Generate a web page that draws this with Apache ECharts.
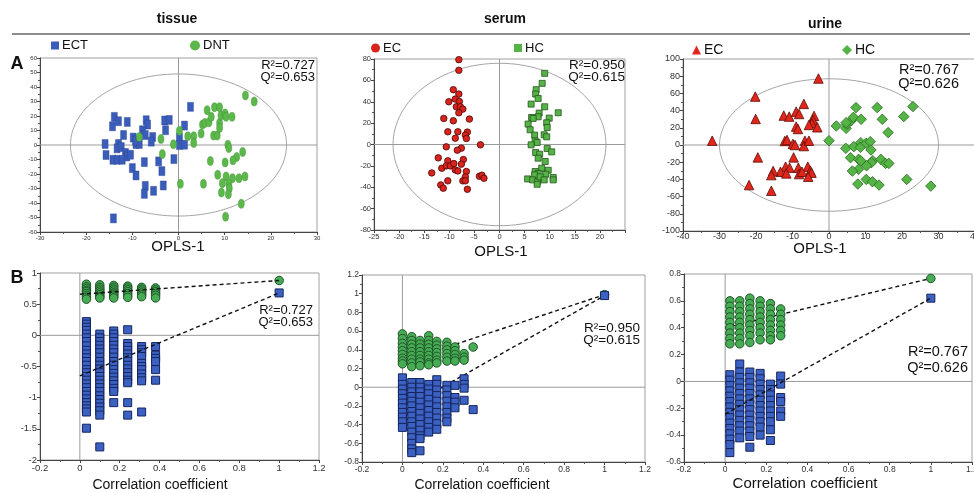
<!DOCTYPE html>
<html><head><meta charset="utf-8">
<script src="https://cdn.jsdelivr.net/npm/echarts@6/dist/echarts.min.js"></script>
<style>html,body{margin:0;padding:0;background:#fff}#c{width:974px;height:493px}</style>
</head><body><div id="c"></div><script>
// ---------- titles ----------
const panelTitles = ['tissue', 'serum', 'urine'];
const panelLetters = ['A', 'B'];
const scoreAxisName = 'OPLS-1';
const permAxisName = 'Correlation coefficient';

// ---------- Row A: OPLS score plots ----------
const tissueECT = [[2.6,26.3],[-13.9,19.4],[-14.3,12.9],[-13,16.4],[-11.1,15.9],[-7,17.1],[-6.7,14.1],[-3,16.9],[-2,17.3],[1.3,13.4],[-2.8,10.2],[-7.8,10.2],[-7.2,6.9],[-9.8,5.1],[-11.9,6.9],[-5.6,5.5],[-5.9,2.3],[0.2,5.3],[0.2,0],[1.3,0.2],[-15.9,0.7],[-13,0.7],[-13.3,-2.3],[-12.4,-1.4],[-11.5,-5.5],[-11.2,-7.9],[-10.4,-6.7],[-9.2,0.7],[-8.5,0.7],[-9.3,3],[-15.7,-6.9],[-14.2,-10.2],[-13.3,-10.2],[-12.2,-10.2],[-10,-15.9],[-9.2,-21],[-7.4,-11.8],[-4.3,-11.3],[-3.6,-18],[-3.3,-27.9],[-1,-9.7],[-7.2,-28.2],[-7.4,-33.7],[-5.4,-31.6],[-14.1,-50.6]];
const tissueDNT = [[-8.5,5.5],[-3.8,4.2],[-3.5,-6.2],[-1.1,0.5],[0.2,9.9],[2,6],[3.3,6],[3.3,1.4],[4.9,7.9],[5.2,14.1],[5.7,15.2],[6.2,24],[6.6,15.7],[7.1,19.4],[7.8,26.1],[7.6,6.5],[8.4,6.5],[8.9,26.1],[8.9,15.2],[9.2,20.3],[8.9,11.8],[10.1,21.7],[10.3,19.4],[11.6,19.4],[14.5,34.2],[16.4,30],[10.7,0.2],[10.9,-2.1],[13.9,-4.8],[12.6,-8.3],[11.8,-10.6],[10.1,-12],[6.9,-11.1],[8.5,-20.6],[10.3,-21.7],[11.7,-22.9],[13.1,-22.9],[14.4,-21.7],[9.5,-26.3],[9.3,-32.8],[10.9,-26.8],[11,-29.8],[10.8,-33.9],[5.4,-26.8],[0.4,-26.8],[13.6,-40.6],[10.2,-49.4]];
const serumEC = [[-8.1,79.4],[-8.1,69.4],[-9.2,51.3],[-8.1,47.2],[-8.8,42.5],[-10.1,40],[-8,40.3],[-8.6,35.3],[-7.8,35.3],[-7.3,33.1],[-8.1,29.7],[-11.1,24.4],[-9.2,22.2],[-6,23.8],[-10.3,11.9],[-8.3,11.9],[-6.4,11.6],[-8.8,5.9],[-6.8,8.8],[-6.6,5.6],[-3.8,-0.3],[-10.6,-2.2],[-7.6,-3.4],[-8.4,-5.3],[-12.2,-12.5],[-10.3,-15.3],[-7.2,-14.1],[-11.5,-22.2],[-10.6,-20],[-9.8,-20],[-9.1,-17.8],[-7.6,-18.4],[-8.8,-23.8],[-8.3,-24.7],[-6.6,-25.3],[-13.5,-26.6],[-6.8,-30.3],[-7.3,-34],[-6.8,-34],[-10.3,-34],[-4,-29.7],[-3.5,-28.8],[-3.1,-31.6],[-11.7,-37.8],[-11.2,-40.9],[-6.4,-41.9]];
const serumHC = [[9,66.6],[8.5,57.2],[7.3,51.3],[7.2,47.2],[7.7,43.1],[6.3,37.8],[9,35.3],[7.9,29.4],[11.7,29.7],[7.7,25.9],[6.4,25.3],[6.7,24.4],[9.9,24.7],[9.4,20.3],[9.5,15.9],[5.7,19.1],[6.1,13.8],[7,8.8],[8.9,9.1],[9.4,7.2],[7.1,3.4],[7.5,1.9],[6.3,-0.3],[9.5,-3.8],[10.4,-6.9],[7.2,-7.5],[8,-9.1],[7.7,-12.8],[9.1,-15.9],[8.4,-22.2],[9.7,-24.1],[7.1,-25.3],[7.7,-27.2],[7,-28.4],[8.5,-30.9],[9.2,-27.8],[10.7,-30.9],[5.6,-32.2],[6.6,-33.1],[7.6,-34.7],[8.1,-30.3],[8.9,-33.1],[10.7,-33.1],[7.5,-37.2]];
const urineEC = [[-2.9,77.3],[-20.2,56.3],[-6.9,47.8],[-20.1,30.3],[-12.4,34.2],[-10.9,33],[-9,38.8],[-8.2,36.1],[-4.1,33.8],[-4.4,29.1],[-4.7,25.2],[-5.5,23.3],[-3.2,20.6],[-9,21.4],[-8.5,18.6],[-32,5],[-12.1,4.7],[-11.5,5.8],[-9.9,1.2],[-9.3,0],[-6.6,5],[-6.9,-1.2],[-5.5,5],[-9.7,-14.4],[-19.5,-14.4],[-11.9,-25.2],[-10.8,-26.4],[-8.4,-26.4],[-5.8,-25.2],[-5.1,-29.9],[-13.3,-31.1],[-15.3,-30.3],[-15.8,-35],[-11.7,-33],[-8.2,-33.8],[-7.4,-31.1],[-4.8,-32.2],[-5.7,-36.9],[-21.9,-46.6],[-15.8,-53.2]];
const urineHC = [[0,5],[2,22.1],[4.7,19.4],[4.9,24.1],[6.1,28.3],[6.7,32.2],[4.7,26],[7.4,43.5],[8.8,29.9],[13.2,43.5],[14.6,29.9],[16.2,14.4],[20.5,33],[23,44.7],[4.6,-3.9],[6.8,-1.9],[8.7,2.7],[8.6,-2.7],[10.2,1.9],[11.3,3.9],[11.5,-5.8],[5.9,-14.8],[8.1,-16.7],[8.7,-18.3],[12,-18.3],[11.6,-20.6],[10.3,-24.1],[14.2,-16.7],[15.5,-21.4],[16.4,-21.4],[8.1,-28.3],[6.4,-30.3],[10.2,-40],[11.9,-42.7],[13.7,-46.6],[7.9,-45.4],[21.3,-40],[27.9,-47.8]];
// Hotelling ellipse radii [x, y]
const tissueEllipse = [23.4, 49];
const serumEllipse = [21.2, 76];
const urineEllipse = [30, 77];
// axis ranges [min, max, step]
const tissueScoreX = [-30, 30, 10], tissueScoreY = [-60, 60, 10];
const serumScoreX = [-25, 25, 5], serumScoreY = [-80, 80, 20];
const urineScoreX = [-40, 40, 10], urineScoreY = [-100, 100, 20];
// model statistics
const tissueStats = ['R²=0.727', 'Q²=0.653'];
const serumStats = ['R²=0.950', 'Q²=0.615'];
const urineStats = ['R²=0.767', 'Q²=0.626'];

// ---------- Row B: permutation tests ----------
const tissuePermX = [0.033, 0.1, 0.17, 0.24, 0.31, 0.38];
const tissuePermR2 = [
  [0.82,0.78,0.75,0.72,0.7,0.67,0.64,0.61,0.58],
  [0.81,0.77,0.74,0.71,0.68,0.65,0.62,0.6],
  [0.8,0.77,0.74,0.71,0.68,0.66,0.63,0.6],
  [0.79,0.76,0.73,0.7,0.67,0.64,0.61],
  [0.77,0.74,0.71,0.68,0.65,0.62],
  [0.76,0.73,0.7,0.67,0.64,0.6]];
const tissuePermQ2 = [
  [0.22,0.18,0.13,0.08,0.02,-0.04,-0.1,-0.17,-0.24,-0.3,-0.36,-0.42,-0.48,-0.55,-0.6,-0.66,-0.72,-0.78,-0.84,-0.9,-0.96,-1.02,-1.08,-1.13,-1.18,-1.23,-1.49],
  [0.02,-0.04,-0.1,-0.16,-0.22,-0.28,-0.35,-0.42,-0.48,-0.54,-0.6,-0.66,-0.72,-0.78,-0.84,-0.9,-0.97,-1.03,-1.09,-1.15,-1.21,-1.28,-1.79],
  [0.07,0.02,-0.04,-0.1,-0.16,-0.22,-0.28,-0.35,-0.42,-0.48,-0.55,-0.61,-0.67,-0.73,-0.79,-0.85,-0.9,-1.08],
  [0.09,-0.13,-0.18,-0.24,-0.3,-0.36,-0.42,-0.48,-0.54,-0.6,-0.66,-0.72,-0.76,-1.08,-1.28],
  [-0.18,-0.23,-0.28,-0.34,-0.45,-0.5,-0.55,-0.62,-0.68,-0.73,-1.23],
  [-0.18,-0.32,-0.37,-0.42,-0.55,-0.72]];
const tissueOrig = [0.88, 0.68];           // R2, Q2 of the real model (x = 1)
const tissueR2Line = [[0, 0.66], [1, 0.88]];
const tissueQ2Line = [[0, -0.65], [1, 0.68]];

const serumPermX = [0, 0.046, 0.087, 0.13, 0.17, 0.22, 0.26, 0.305, 0.35];
const serumPermR2 = [
  [0.57,0.52,0.47,0.43,0.39,0.35,0.31,0.28,0.25],
  [0.54,0.5,0.46,0.42,0.38,0.34,0.3,0.26,0.22],
  [0.5,0.46,0.42,0.38,0.34,0.3,0.27,0.23],
  [0.55,0.5,0.46,0.42,0.38,0.34,0.3,0.26,0.24],
  [0.49,0.45,0.41,0.37,0.33,0.29,0.26],
  [0.48,0.44,0.4,0.36,0.32,0.28],
  [0.43,0.39,0.35,0.31,0.28],
  [0.36,0.32,0.29],
  [0.43]];
const serumPermQ2 = [
  [0.1,0.03,-0.02,-0.07,-0.12,-0.17,-0.22,-0.27,-0.32,-0.37,-0.43],
  [0.05,0,-0.05,-0.1,-0.15,-0.2,-0.26,-0.31,-0.37,-0.42,-0.48,-0.54,-0.6,-0.66,-0.7],
  [0.05,0,-0.05,-0.1,-0.16,-0.22,-0.28,-0.34,-0.4,-0.46,-0.52,-0.55,-0.68],
  [0.03,-0.02,-0.07,-0.13,-0.19,-0.25,-0.31,-0.37,-0.43,-0.48],
  [0.08,0.03,-0.03,-0.09,-0.15,-0.21,-0.27,-0.33,-0.39,-0.45],
  [0.02,-0.03,-0.09,-0.15,-0.21,-0.27,-0.33,-0.37],
  [0.02,-0.11,-0.16,-0.22],
  [0.09,0.03,-0.01,-0.14],
  [-0.24]];
const serumOrig = [0.99, 0.98];
const serumR2Line = [[0, 0.27], [1, 0.99]];
const serumQ2Line = [[0, -0.24], [1, 0.98]];

const urinePermX = [0.023, 0.071, 0.12, 0.17, 0.22, 0.27];
const urinePermR2 = [
  [0.6,0.56,0.52,0.48,0.44,0.4,0.36,0.32,0.28],
  [0.6,0.56,0.52,0.48,0.44,0.4,0.36,0.32,0.28],
  [0.62,0.58,0.54,0.5,0.46,0.42,0.38,0.34,0.29],
  [0.6,0.56,0.52,0.48,0.44,0.4,0.36,0.31],
  [0.58,0.54,0.5,0.46,0.42,0.38,0.34,0.31],
  [0.54,0.5,0.46,0.42,0.38,0.34]];
const urinePermQ2 = [
  [0.05,0.01,-0.03,-0.07,-0.11,-0.15,-0.19,-0.23,-0.27,-0.31,-0.35,-0.39,-0.43,-0.47,-0.53],
  [0.13,0.07,0.03,-0.01,-0.05,-0.09,-0.13,-0.17,-0.21,-0.25,-0.29,-0.33,-0.37,-0.42],
  [0.07,0.03,-0.01,-0.05,-0.09,-0.13,-0.17,-0.21,-0.25,-0.29,-0.33,-0.37,-0.41,-0.49],
  [0.06,0.02,-0.02,-0.06,-0.1,-0.14,-0.18,-0.22,-0.26,-0.3,-0.34,-0.4],
  [-0.02,-0.06,-0.1,-0.14,-0.18,-0.22,-0.26,-0.3,-0.36,-0.44],
  [0.04,-0.02,-0.12,-0.15,-0.22,-0.26]];
const urineOrig = [0.767, 0.62];
const urineR2Line = [[0, 0.40], [1, 0.767]];
const urineQ2Line = [[0, -0.243], [1, 0.62]];

const tissuePermAxisX = [-0.2, 1.2, 0.2], tissuePermAxisY = [-2, 1, 0.5];
const serumPermAxisX = [-0.2, 1.2, 0.2], serumPermAxisY = [-0.8, 1.2, 0.2];
const urinePermAxisX = [-0.2, 1.2, 0.2], urinePermAxisY = [-0.6, 0.8, 0.2];

// ---------- layout / styling ----------
const FONT = '"Liberation Sans", Arial, Helvetica, sans-serif';
const grids = [
  {left: 40, top: 58, width: 277, height: 174},
  {left: 374, top: 59, width: 251, height: 171},
  {left: 683, top: 59, width: 292, height: 172},
  {left: 40, top: 273, width: 279, height: 187},
  {left: 362, top: 275, width: 283, height: 187},
  {left: 684, top: 274, width: 288, height: 188}
];
const tickFont = [6, 7.5, 9, 9.5, 8.5, 8.5];
const xLabelMargin = [3, 3, 1, 3, 3, 3];

function axis(gi, r, fs, margin, extraLabel) {
  return {
    type: 'value', gridIndex: gi, min: r[0], max: r[1], interval: r[2],
    axisLine: {onZero: false, lineStyle: {color: '#444', width: 1}},
    axisTick: {show: true, length: 3, lineStyle: {color: '#444'}},
    minorTick: {show: true, splitNumber: 2, length: 2, lineStyle: {color: '#555'}},
    splitLine: {show: false},
    axisLabel: Object.assign({fontSize: fs, color: '#333', margin: margin, fontFamily: FONT}, extraLabel || {})
  };
}
const xr = [tissueScoreX, serumScoreX, urineScoreX, tissuePermAxisX, serumPermAxisX, urinePermAxisX];
const yr = [tissueScoreY, serumScoreY, urineScoreY, tissuePermAxisY, serumPermAxisY, urinePermAxisY];
const xAxes = xr.map((r, i) => axis(i, r, tickFont[i], xLabelMargin[i], i === 1 ? {showMaxLabel: false} : null));
const yAxes = yr.map((r, i) => axis(i, r, tickFont[i], 3, null));

const series = [];
// zero lines (gray cross)
xr.forEach((r, i) => {
  const y = yr[i];
  const zl = {type: 'line', xAxisIndex: i, yAxisIndex: i, symbol: 'none', silent: true, z: 1,
    lineStyle: {color: '#9a9a9a', width: 1}, animation: false};
  series.push(Object.assign({}, zl, {data: [[0, y[0]], [0, y[1]]]}));
  series.push(Object.assign({}, zl, {data: [[r[0], 0], [r[1], 0]]}));
});
// ellipses
function ellipseSeries(i, rr) {
  return {type: 'custom', xAxisIndex: i, yAxisIndex: i, silent: true, z: 1, data: [rr],
    renderItem: function (params, api) {
      const c = api.coord([0, 0]);
      const e = api.coord([api.value(0), api.value(1)]);
      return {type: 'ellipse', shape: {cx: c[0], cy: c[1], rx: Math.abs(e[0] - c[0]), ry: Math.abs(e[1] - c[1])},
        style: {fill: null, stroke: '#a5a5a5', lineWidth: 1}};
    }};
}
series.push(ellipseSeries(0, tissueEllipse), ellipseSeries(1, serumEllipse), ellipseSeries(2, urineEllipse));

const BLUE = '#3a5cba', GREEN = '#55b446', RED = '#d8241c';
function sc(name, i, data, symbol, size, color, border, bw) {
  return {type: 'scatter', name: name, xAxisIndex: i, yAxisIndex: i, data: data, symbol: symbol, symbolSize: size, z: 3,
    itemStyle: {color: color, borderColor: border, borderWidth: bw, opacity: 1}};
}
series.push(sc('ECT', 0, tissueECT, 'rect', [6, 9], BLUE, '#2c4690', 0.4));
series.push(sc('DNT', 0, tissueDNT, 'circle', [6, 9], '#5cb84a', '#3f8c33', 0.4));
series.push(sc('EC', 1, serumEC, 'circle', 6.5, RED, '#4a0805', 0.8));
series.push(sc('HC', 1, serumHC, 'rect', 6, GREEN, '#24561c', 0.8));
series.push(sc('EC', 2, urineEC, 'triangle', 9.5, '#e2261c', '#5a0c08', 0.8));
series.push(sc('HC', 2, urineHC, 'diamond', 10.5, GREEN, '#2b6a22', 0.8));

function cols(xs, c, orig) {
  const out = [];
  c.forEach((col, k) => col.forEach(v => out.push([xs[k], v])));
  out.push([1, orig]);
  return out;
}
function perm(i, xs, r2, q2, orig, l2, lq, zR2, zQ2) {
  const dash = {type: [4, 3], color: '#111', width: 1.4};
  series.push({type: 'line', xAxisIndex: i, yAxisIndex: i, data: l2, symbol: 'none', z: zR2, silent: true, lineStyle: dash});
  series.push({type: 'line', xAxisIndex: i, yAxisIndex: i, data: lq, symbol: 'none', z: zQ2, silent: true, lineStyle: dash});
  series.push(sc('R2perm' + i, i, cols(xs, r2, orig[0]), 'circle', 8.5, '#47ad55', '#1d5326', 1));
  series.push(sc('Q2perm' + i, i, cols(xs, q2, orig[1]), 'rect', 8, '#3b62c2', '#16245e', 1));
}
perm(3, tissuePermX, tissuePermR2, tissuePermQ2, tissueOrig, tissueR2Line, tissueQ2Line, 4, 4);
perm(4, serumPermX, serumPermR2, serumPermQ2, serumOrig, serumR2Line, serumQ2Line, 2, 2);
perm(5, urinePermX, urinePermR2, urinePermQ2, urineOrig, urineR2Line, urineQ2Line, 2, 4);

// ---------- texts ----------
function txt(x, y, s, font, align) {
  return {type: 'text', x: x, y: y, silent: true, z: 10,
    style: {text: s, font: font, fill: '#111', textAlign: align || 'center', align: align || 'center',
      textVerticalAlign: 'middle', verticalAlign: 'middle'}};
}
const graphics = [
  {type: 'line', shape: {x1: 12, y1: 34, x2: 970, y2: 34}, style: {stroke: '#666', lineWidth: 1.5}, silent: true},
  txt(177, 19, panelTitles[0], 'bold 14px ' + FONT),
  txt(505, 19, panelTitles[1], 'bold 14px ' + FONT),
  txt(825, 24, panelTitles[2], 'bold 14px ' + FONT),
  txt(17, 64, panelLetters[0], 'bold 18px ' + FONT),
  txt(17, 278, panelLetters[1], 'bold 18px ' + FONT),
  txt(178, 247, scoreAxisName, '15px ' + FONT),
  txt(501, 252, scoreAxisName, '15px ' + FONT),
  txt(820, 249, scoreAxisName, '15px ' + FONT),
  txt(160, 485, permAxisName, '14px ' + FONT),
  txt(482, 485, permAxisName, '14px ' + FONT),
  txt(805, 484, permAxisName, '15px ' + FONT),
  txt(315, 65, tissueStats[0], '13px ' + FONT, 'right'),
  txt(315, 77, tissueStats[1], '13px ' + FONT, 'right'),
  txt(625, 65.5, serumStats[0], '13.5px ' + FONT, 'right'),
  txt(625, 77, serumStats[1], '13.5px ' + FONT, 'right'),
  txt(959, 70, urineStats[0], '14.5px ' + FONT, 'right'),
  txt(959, 84, urineStats[1], '14.5px ' + FONT, 'right'),
  txt(313, 310, tissueStats[0], '13px ' + FONT, 'right'),
  txt(313, 322, tissueStats[1], '13px ' + FONT, 'right'),
  txt(640, 328, serumStats[0], '13.5px ' + FONT, 'right'),
  txt(640, 340, serumStats[1], '13.5px ' + FONT, 'right'),
  txt(968, 352, urineStats[0], '14.5px ' + FONT, 'right'),
  txt(968, 368, urineStats[1], '14.5px ' + FONT, 'right')
];

function lg(name, icon, left, top, w, h, fs, itemStyle) {
  const d = {name: name, icon: icon};
  if (itemStyle) d.itemStyle = itemStyle;
  return {selectedMode: false, left: left, top: top, padding: 0, itemWidth: w, itemHeight: h,
    textStyle: {fontSize: fs, color: '#111', fontFamily: FONT, lineHeight: 16, padding: [0, 0, 0, -2]},
    data: [d]};
}

const chart = echarts.init(document.getElementById('c'), null, {renderer: 'canvas'});
chart.setOption({
  animation: false,
  backgroundColor: '#fff',
  grid: grids.map(g => Object.assign({show: true, borderColor: '#a0a0a0', borderWidth: 1, backgroundColor: 'transparent', containLabel: false, outerBoundsMode: 'none'}, g)),
  xAxis: xAxes,
  yAxis: yAxes,
  legend: [
    lg('ECT', 'rect', 51, 37.5, 8, 8, 13, {color: BLUE, borderWidth: 0}),
    lg('DNT', 'circle', 190, 37.5, 10, 10, 13, {color: '#5cb84a', borderWidth: 0}),
    lg('EC', 'circle', 371, 40, 9, 9, 13, {color: RED, borderWidth: 0}),
    lg('HC', 'rect', 514, 40, 8, 8, 13, {color: GREEN, borderWidth: 0}),
    lg('EC', 'triangle', 692, 42, 9, 9, 14, {color: '#e2261c', borderWidth: 0}),
    lg('HC', 'diamond', 842, 42, 10, 10, 14, {color: GREEN, borderWidth: 0})
  ],
  graphic: graphics,
  series: series
});
</script></body></html>
